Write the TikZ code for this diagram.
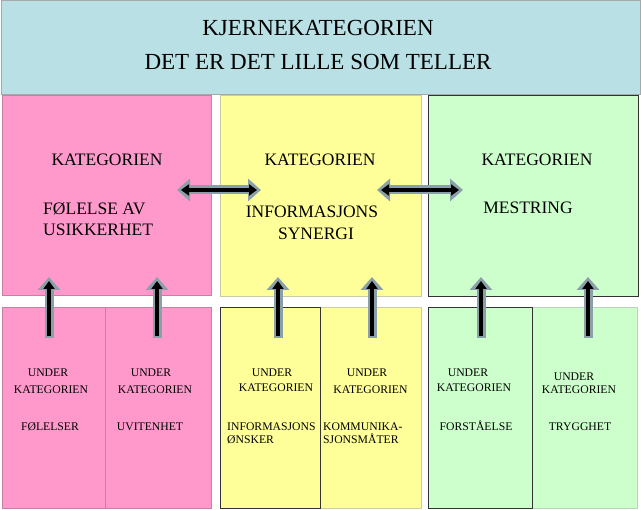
\documentclass[tikz,border=0pt]{standalone}
\usepackage{fontspec}
\setmainfont{Liberation Serif}
\usetikzlibrary{arrows.meta}
\definecolor{topblue}{HTML}{B9E0E4}
\definecolor{pinkf}{HTML}{FF99CC}
\definecolor{yellowf}{HTML}{FFFF99}
\definecolor{greenf}{HTML}{CCFFCC}
\definecolor{arrgray}{HTML}{8A9FA8}
\definecolor{lightborder}{HTML}{A8A8A8}
\definecolor{pinkborder}{HTML}{C77FA3}
\definecolor{darkborder}{HTML}{333333}
\tikzset{
  boxbase/.style={line width=0.8pt},
  bigtxt/.style={font=\fontsize{23}{27}\selectfont, anchor=base, inner sep=0pt},
  cattxt/.style={font=\fontsize{17.5}{21}\selectfont, anchor=base, inner sep=0pt},
  cattxtw/.style={font=\fontsize{17.5}{21}\selectfont, anchor=base west, inner sep=0pt},
  subtxt/.style={font=\fontsize{11.7}{13}\selectfont, anchor=base, inner sep=0pt},
  subtxtw/.style={font=\fontsize{11.7}{13}\selectfont, anchor=base west, inner sep=0pt},
  fatouter/.style={draw=arrgray, line width=9pt, -{Triangle[width=22pt,length=13pt]}},
  fatinner/.style={draw=black, line width=4pt, -{Triangle[width=11pt,length=8pt]}},
  fatouterd/.style={draw=arrgray, line width=9pt, {Triangle[width=22pt,length=13pt]}-{Triangle[width=22pt,length=13pt]}},
  fatinnerd/.style={draw=black, line width=4pt, {Triangle[width=11pt,length=8pt]}-{Triangle[width=11pt,length=8pt]}},
}
\begin{document}
\begin{tikzpicture}[x=1pt,y=-1pt]
\useasboundingbox[fill=white] (0,0) rectangle (641,510);
% top box
\path[boxbase, draw=lightborder, fill=topblue] (1,0.5) rectangle (640,94);
\node[bigtxt] (t1) at (318,36) {KJERNEKATEGORIEN};
\node[bigtxt] (t2) at (318,70) {DET ER DET LILLE SOM TELLER};
% middle boxes
\path[boxbase, draw=pinkborder, fill=pinkf] (2,95) rectangle (211,295);
\path[boxbase, draw=lightborder!60!yellowf, fill=yellowf] (220,95) rectangle (421,296);
\path[boxbase, draw=darkborder, fill=greenf] (428,95) rectangle (638,296);
\node[cattxt] (k1) at (107,166) {KATEGORIEN};
\node[cattxtw] (k1a) at (43,215) {FØLELSE AV};
\node[cattxtw] (k1b) at (43,236) {USIKKERHET};
\node[cattxt] (k2) at (320,166) {KATEGORIEN};
\node[cattxt] (k2a) at (312,218) {INFORMASJONS};
\node[cattxt] (k2b) at (316,240) {SYNERGI};
\node[cattxt] (k3) at (537,166) {KATEGORIEN};
\node[cattxt] (k3a) at (528,214) {MESTRING};
% bottom boxes
\path[boxbase, draw=pinkborder, fill=pinkf] (2,307) rectangle (105,508);
\path[boxbase, draw=pinkborder, fill=pinkf] (105,307) rectangle (211,508);
\path[boxbase, draw=lightborder!60!yellowf, fill=yellowf] (320,307) rectangle (421,508);
\path[boxbase, draw=darkborder, fill=yellowf] (220,307) rectangle (320,508);
\path[boxbase, draw=lightborder!50!greenf, fill=greenf] (532,307) rectangle (637,508);
\path[boxbase, draw=darkborder, fill=greenf] (428,307) rectangle (532,508);
% sub texts
\node[subtxt] (u1) at (48,377) {UNDER};
\node[subtxt] (u1k) at (51,394) {KATEGORIEN};
\node[subtxt] (u1t) at (50,431) {FØLELSER};
\node[subtxt] (u2) at (151,377) {UNDER};
\node[subtxt] (u2k) at (155,394) {KATEGORIEN};
\node[subtxt] (u2t) at (150,431) {UVITENHET};
\node[subtxt] (u3) at (272,377) {UNDER};
\node[subtxt] (u3k) at (276,392) {KATEGORIEN};
\node[subtxtw] (u3t) at (227,431) {INFORMASJONS};
\node[subtxtw] (u3u) at (227,444) {ØNSKER};
\node[subtxt] (u4) at (367,377) {UNDER};
\node[subtxt] (u4k) at (370.5,394) {KATEGORIEN};
\node[subtxtw] (u4t) at (323,431) {KOMMUNIKA-};
\node[subtxtw] (u4u) at (323,444) {SJONSMÅTER};
\node[subtxt] (u5) at (468,377) {UNDER};
\node[subtxt] (u5k) at (474,392) {KATEGORIEN};
\node[subtxt] (u5t) at (476,431) {FORSTÅELSE};
\node[subtxt] (u6) at (574,381) {UNDER};
\node[subtxt] (u6k) at (579,394) {KATEGORIEN};
\node[subtxt] (u6t) at (580,431) {TRYGGHET};
% horizontal double arrows
\coordinate (h1a) at (177,190); \coordinate (h1b) at (261,190);
\coordinate (h1c) at (181,190); \coordinate (h1d) at (257,190);
\coordinate (h2a) at (377,190); \coordinate (h2b) at (463,190);
\coordinate (h2c) at (381,190); \coordinate (h2d) at (459,190);
\draw[fatouterd] (h1a) -- (h1b);
\draw[fatinnerd] (h1c) -- (h1d);
\draw[fatouterd] (h2a) -- (h2b);
\draw[fatinnerd] (h2c) -- (h2d);
% vertical arrows
\foreach \x/\n in {49/a,157/b,278/c,372/d,481/e,588/f}{
  \coordinate (vs\n) at (\x,338);
  \coordinate (ve\n) at (\x,277);
  \coordinate (vi\n) at (\x,336);
  \coordinate (vj\n) at (\x,281);
  \draw[fatouter] (vs\n) -- (ve\n);
  \draw[fatinner] (vi\n) -- (vj\n);
}
\end{tikzpicture}
\end{document}
